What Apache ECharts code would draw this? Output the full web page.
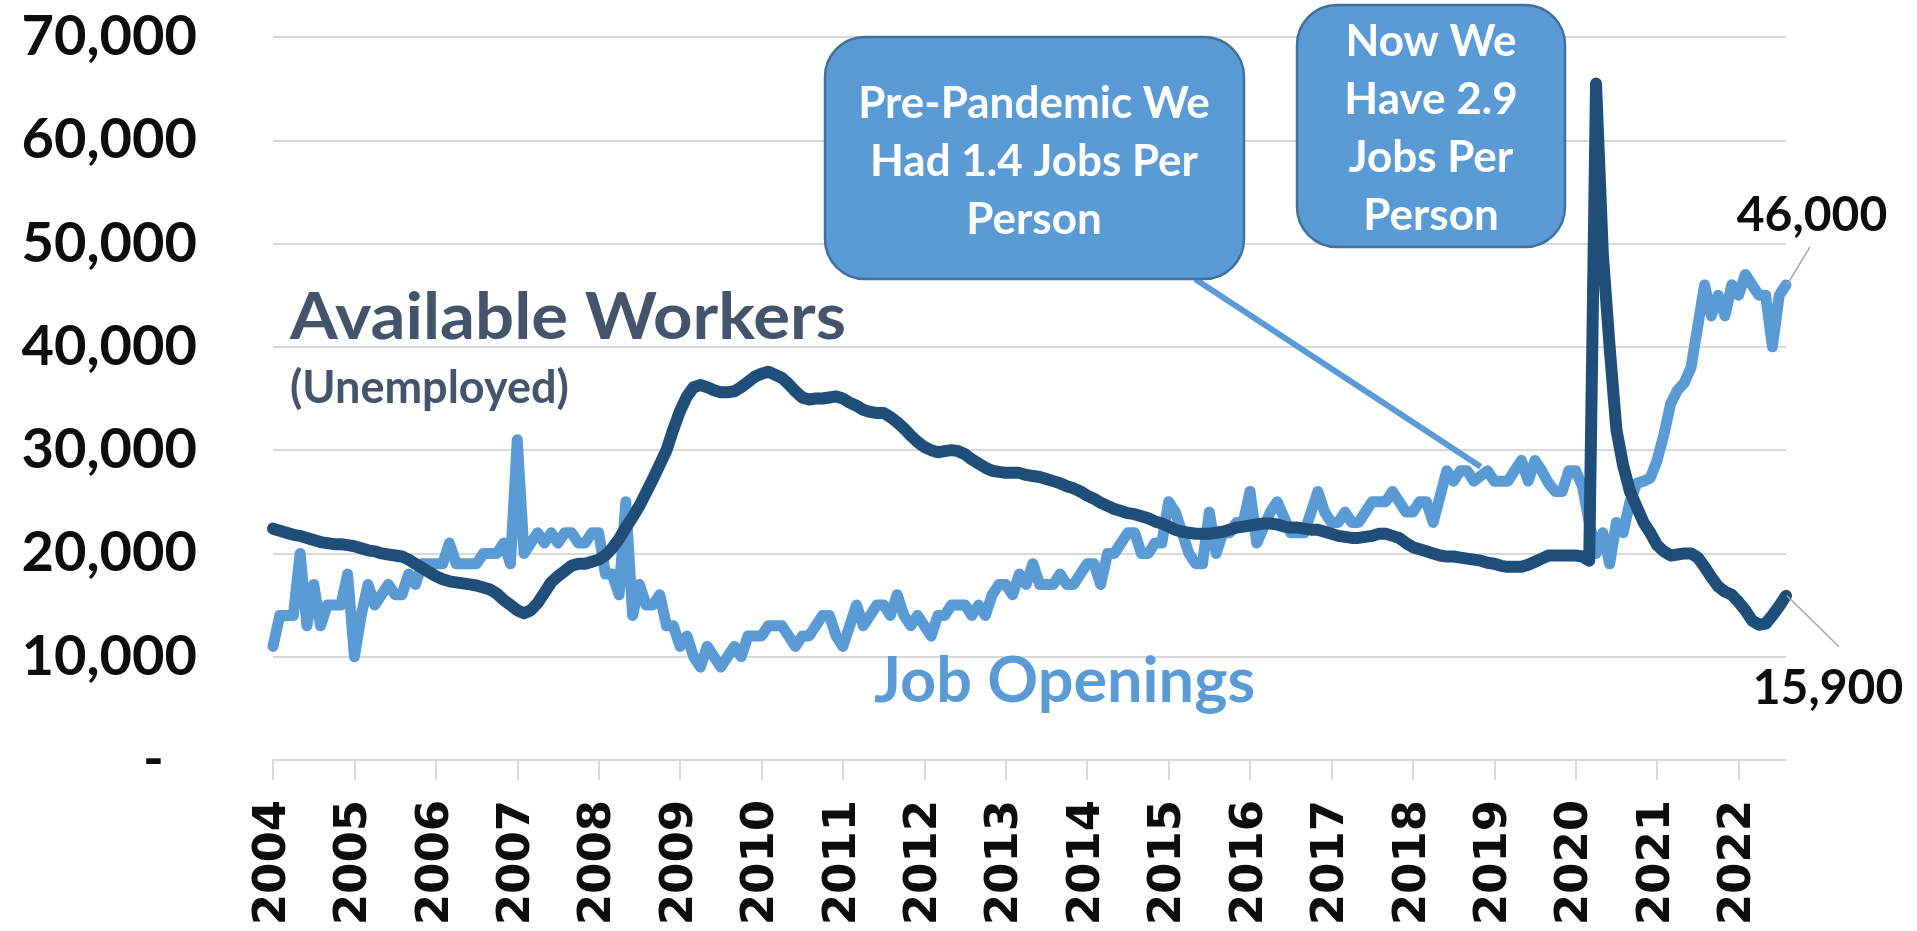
<!DOCTYPE html>
<html>
<head>
<meta charset="utf-8">
<script src="https://cdn.jsdelivr.net/npm/echarts@6/dist/echarts.min.js"></script>
<style>
    html, body { margin: 0; padding: 0; background: #fff; }
    #chart-div { width: 1917px; height: 931px; }
</style>
</head>
<body>
<div id="chart-div"></div>
<script>
// monthly values in thousands, Jan 2004 .. Aug 2022 (one row per year)
const startYear = 2004
const jobOpenings = [
    11, 14, 14, 14, 20, 13, 17, 13, 15, 15, 15, 18,
    10, 14, 17, 15, 16, 17, 16, 16, 18, 17, 19, 19,
    19, 19, 21, 19, 19, 19, 19, 20, 20, 20, 21, 19,
    31, 20, 21, 22, 21, 22, 21, 22, 22, 21, 21, 22,
    22, 18, 18, 16, 25, 14, 17, 15, 15, 16, 13, 13,
    11, 12, 10, 9, 11, 10, 9, 10, 11, 10, 12, 12,
    12, 13, 13, 13, 12, 11, 12, 12, 13, 14, 14, 12,
    11, 13, 15, 13, 14, 15, 15, 14, 16, 14, 13, 14,
    13, 12, 14, 14, 15, 15, 15, 14, 15, 14, 16, 17,
    17, 16, 18, 17, 19, 17, 17, 17, 18, 17, 17, 18,
    19, 19, 17, 20, 20, 21, 22, 22, 20, 20, 21, 21,
    25, 24, 22, 20, 19, 19, 24, 20, 22, 22, 23, 23,
    26, 21, 22.5, 24, 25, 23.5, 22, 22, 22, 24, 26, 24,
    23, 23, 24, 23, 23, 24, 25, 25, 25, 26, 25, 24,
    24, 25, 25, 23, 25.5, 28, 27, 28, 28, 27, 27.5, 28,
    27, 27, 27, 28, 29, 27, 29, 28, 26.8, 26, 26, 28,
    28, 26.5, 23, 20, 22, 19, 23, 22, 25, 26.8, 27, 27.3,
    29, 31.5, 34.5, 35.8, 36.5, 38, 42, 46, 43, 45, 43, 46,
    45, 47, 46, 45, 45, 40, 45, 46
]
const unemployed = [
    22.4, 22.2, 22.0, 21.8, 21.7, 21.5, 21.3, 21.1, 21.0, 20.9, 20.9, 20.8,
    20.7, 20.5, 20.3, 20.2, 20.0, 19.9, 19.8, 19.7, 19.4, 19.0, 18.6, 18.2,
    17.8, 17.5, 17.3, 17.2, 17.1, 17.0, 16.9, 16.7, 16.5, 16.1, 15.5, 15.0,
    14.5, 14.2, 14.5, 15.2, 16.2, 17.2, 17.8, 18.3, 18.8, 19.0, 19.0, 19.2,
    19.4, 19.8, 20.5, 21.4, 22.5, 23.5, 24.6, 25.9, 27.2, 28.6, 30.0, 32.0,
    33.8, 35.2, 36.1, 36.3, 36.1, 35.8, 35.6, 35.6, 35.7, 36.1, 36.6, 37.1,
    37.4, 37.6, 37.3, 37.0, 36.4, 35.7, 35.1, 34.9, 35.0, 35.0, 35.1, 35.2,
    35.0, 34.6, 34.3, 33.9, 33.7, 33.6, 33.6, 33.2, 32.7, 32.1, 31.4, 30.8,
    30.3, 30.0, 29.8, 29.9, 30.0, 29.9, 29.6, 29.1, 28.7, 28.3, 28.0, 27.9,
    27.8, 27.8, 27.8, 27.6, 27.5, 27.4, 27.2, 27.0, 26.8, 26.5, 26.3, 26.0,
    25.6, 25.3, 24.9, 24.6, 24.3, 24.1, 23.9, 23.8, 23.6, 23.4, 23.1, 22.9,
    22.6, 22.3, 22.1, 22.0, 21.9, 21.9, 21.9, 22.0, 22.1, 22.3, 22.5, 22.6,
    22.7, 22.8, 22.9, 22.9, 22.8, 22.6, 22.5, 22.5, 22.4, 22.3, 22.3, 22.1,
    21.9, 21.7, 21.6, 21.5, 21.5, 21.6, 21.7, 21.9, 21.9, 21.7, 21.5, 21.0,
    20.6, 20.4, 20.2, 20.0, 19.8, 19.7, 19.7, 19.6, 19.5, 19.4, 19.3, 19.1,
    19.0, 18.8, 18.7, 18.7, 18.7, 18.9, 19.2, 19.5, 19.8, 19.8, 19.8, 19.8,
    19.8, 19.7, 19.3, 65.5, 49, 40, 32, 28.5, 26, 24.5, 23, 22,
    20.8, 20.2, 19.8, 19.9, 20.0, 20.0, 19.6, 18.7, 17.7, 16.8, 16.3, 16.0,
    15.3, 14.5, 13.5, 13.1, 13.2, 14.0, 14.9, 15.9
]
const months = jobOpenings.map((v, i) => (startYear + Math.floor(i / 12)) + '-' + String(i % 12 + 1).padStart(2, '0'))

const boxOneText = 'Pre-Pandemic We\nHad 1.4 Jobs Per\nPerson'
const boxTwoText = 'Now We\nHave 2.9\nJobs Per\nPerson'
const pointerMonth = '2018-11' // where the first callout points
const pointerValue = 28.4

const darkBlue = '#1F4E79'
const lightBlue = '#5B9BD5'
const slate = '#44546A'
const grey = '#D9D9D9'
const calibri = 'Lato, "Open Sans", sans-serif'

let myChart = echarts.init(document.getElementById('chart-div'))

const option = {
    animation: false,
    grid: { left: 273, right: 131, top: 37, bottom: 171 },
    xAxis: {
        type: 'category',
        data: months,
        boundaryGap: false,
        axisLine: { lineStyle: { color: grey, width: 2 } },
        axisTick: { interval: 11, length: 20, lineStyle: { color: grey, width: 2 } },
        axisLabel: {
            interval: 11,
            rotate: 90,
            margin: 40,
            formatter: v => v.slice(0, 4),
            fontFamily: '"DejaVu Sans", sans-serif',
            fontWeight: 'bold',
            fontSize: 45,
            color: '#0D0D0D'
        }
    },
    yAxis: {
        type: 'value',
        min: 0,
        max: 70000,
        interval: 10000,
        axisLine: { show: false },
        axisTick: { show: false },
        splitLine: { lineStyle: { color: grey, width: 2 } },
        axisLabel: {
            margin: 76,
            fontFamily: calibri,
            fontWeight: 'bold',
            fontSize: 56,
            color: '#0D0D0D',
            formatter: v => v === 0 ? '{dash|-}' : v.toLocaleString('en-US'),
            rich: {
                dash: { fontFamily: calibri, fontWeight: 'bold', fontSize: 56, color: '#0D0D0D', padding: [0, 33, 0, 0] }
            }
        }
    },
    series: [
        {
            name: 'Job Openings',
            type: 'line',
            data: jobOpenings.map(v => Math.round(v * 1000)),
            showSymbol: false,
            z: 2,
            lineStyle: { color: lightBlue, width: 11, cap: 'round', join: 'round' }
        },
        {
            name: 'Available Workers',
            type: 'line',
            data: unemployed.map(v => Math.round(v * 1000)),
            showSymbol: false,
            z: 3,
            lineStyle: { color: darkBlue, width: 12, cap: 'round', join: 'round' }
        }
    ]
}

myChart.setOption(option)

// annotations, anchored on the data through the chart's own scales
const lastIdx = months.length - 1
const pJobs = myChart.convertToPixel({ seriesIndex: 0 }, [months[lastIdx], jobOpenings[lastIdx] * 1000])
const pUnemp = myChart.convertToPixel({ seriesIndex: 1 }, [months[lastIdx], unemployed[lastIdx] * 1000])
const pPointer = myChart.convertToPixel({ seriesIndex: 0 }, [pointerMonth, pointerValue * 1000])

const graphics = [
    { type: 'text', z: 10, x: 290, y: 318, scaleX: 1.06, style: { text: 'Available Workers', x: 0, y: 0, font: 'bold 65px ' + calibri, fill: slate, textAlign: 'left', textVerticalAlign: 'middle' } },
    { type: 'text', z: 10, style: { text: '(Unemployed)', x: 290, y: 388, font: 'bold 45px ' + calibri, fill: slate, textAlign: 'left', textVerticalAlign: 'middle' } },
    { type: 'text', z: 10, style: { text: 'Job Openings', x: 874, y: 682, font: 'bold 63px ' + calibri, fill: lightBlue, textAlign: 'left', textVerticalAlign: 'middle' } },
    // callout one + its pointer
    { type: 'line', z: 9, shape: { x1: 1195, y1: 279, x2: pPointer[0], y2: pPointer[1] }, style: { stroke: lightBlue, lineWidth: 6 } },
    { type: 'rect', z: 10, shape: { x: 825, y: 37, width: 419, height: 242, r: 40 }, style: { fill: lightBlue, stroke: '#41719C', lineWidth: 2.5 } },
    { type: 'text', z: 11, style: { text: boxOneText, x: 1034, y: 162, font: 'bold 44px ' + calibri, lineHeight: 58, fill: '#fff', textAlign: 'center', textVerticalAlign: 'middle' } },
    // callout two
    { type: 'rect', z: 10, shape: { x: 1297, y: 5, width: 268, height: 242, r: 40 }, style: { fill: lightBlue, stroke: '#41719C', lineWidth: 2.5 } },
    { type: 'text', z: 11, style: { text: boxTwoText, x: 1431, y: 129, font: 'bold 44px ' + calibri, lineHeight: 58, fill: '#fff', textAlign: 'center', textVerticalAlign: 'middle' } },
    // end labels
    { type: 'line', z: 9, shape: { x1: pJobs[0] + 1, y1: pJobs[1], x2: pJobs[0] + 24, y2: pJobs[1] - 38 }, style: { stroke: '#A6A6A6', lineWidth: 1.5 } },
    { type: 'text', z: 10, style: { text: (jobOpenings[lastIdx] * 1000).toLocaleString('en-US'), x: pJobs[0] + 26, y: pJobs[1] - 69, font: 'bold 48px ' + calibri, fill: '#0D0D0D', textAlign: 'center', textVerticalAlign: 'middle' } },
    { type: 'line', z: 9, shape: { x1: pUnemp[0] + 1, y1: pUnemp[1], x2: pUnemp[0] + 53, y2: pUnemp[1] + 51 }, style: { stroke: '#A6A6A6', lineWidth: 1.5 } },
    { type: 'text', z: 10, style: { text: Math.round(unemployed[lastIdx] * 1000).toLocaleString('en-US'), x: pUnemp[0] + 42, y: pUnemp[1] + 93, font: 'bold 48px ' + calibri, fill: '#0D0D0D', textAlign: 'center', textVerticalAlign: 'middle' } }
]

myChart.setOption({ graphic: graphics })
</script>
</body>
</html>
